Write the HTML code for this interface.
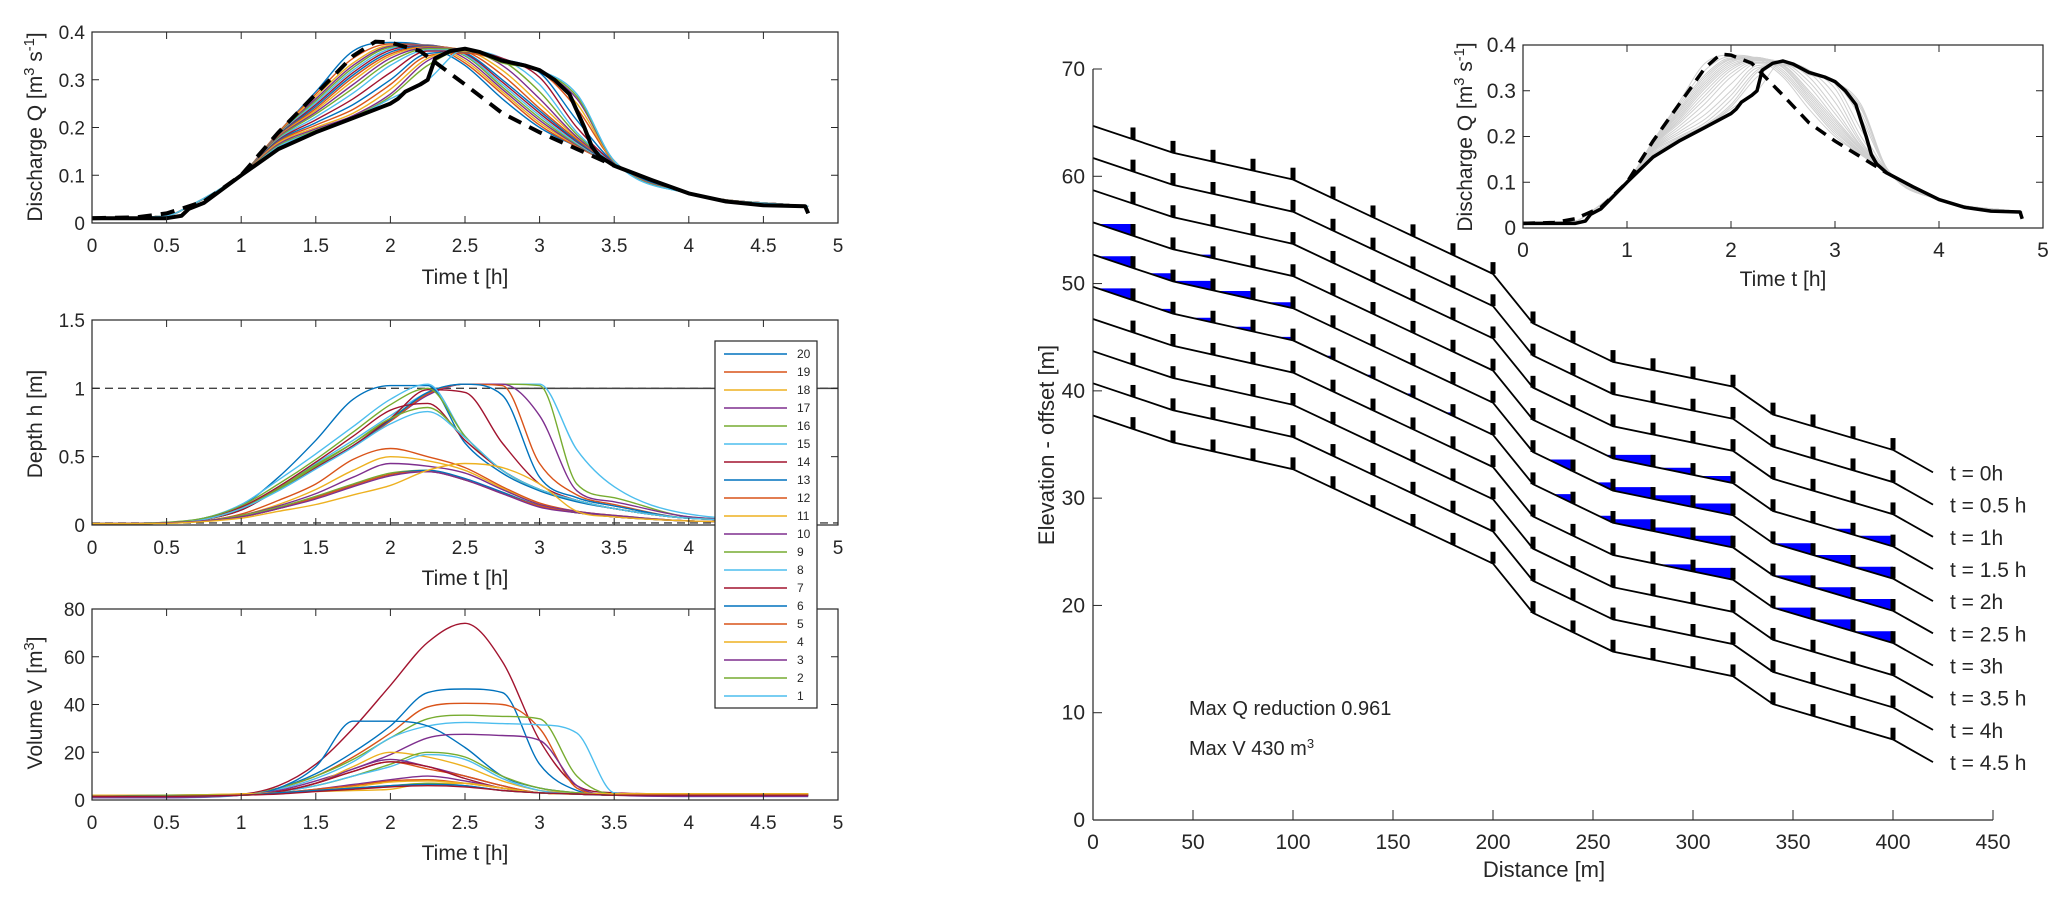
<!DOCTYPE html>
<html><head><meta charset="utf-8"><style>
html,body{margin:0;padding:0;background:#fff;}
svg{display:block;font-family:"Liberation Sans",Arial,sans-serif;}
</style></head><body>
<svg id="fig" width="2067" height="899" viewBox="0 0 2067 899" xmlns="http://www.w3.org/2000/svg">
<rect width="2067" height="899" fill="#fff"/>
<g id="root"></g>
</svg>
<script>
// ---------- data ----------
const palette=["#0072BD","#D95319","#EDB120","#7E2F8E","#77AC30","#4DBEEE","#A2142F"];
const timeTicks=[0,0.5,1,1.5,2,2.5,3,3.5,4,4.5,5];
const qTicks=[0,0.1,0.2,0.3,0.4];
const hTicks=[0,0.5,1,1.5];
const vTicks=[0,20,40,60,80];
const distTicks=[0,50,100,150,200,250,300,350,400,450];
const elevTicks=[0,10,20,30,40,50,60,70];
const insetTimeTicks=[0,1,2,3,4,5];

const inflowT=[0,0.3,0.5,0.6,0.75,1,1.25,1.5,1.75,1.9,2.0,2.2,2.5,2.75,3.0,3.25,3.5];
const inflowQ=[0.01,0.012,0.02,0.03,0.045,0.1,0.19,0.27,0.35,0.38,0.378,0.36,0.29,0.23,0.19,0.155,0.12];
const outflowT=[0,0.5,0.6,0.65,0.75,1,1.25,1.5,1.75,2.0,2.05,2.1,2.2,2.25,2.3,2.4,2.5,2.6,2.75,2.9,3.0,3.1,3.2,3.3,3.35,3.4,3.5,3.75,4,4.25,4.5,4.78,4.8];
const outflowQ=[0.01,0.01,0.015,0.03,0.042,0.1,0.155,0.19,0.22,0.25,0.26,0.275,0.29,0.3,0.345,0.36,0.365,0.358,0.34,0.33,0.32,0.3,0.27,0.2,0.16,0.14,0.12,0.09,0.062,0.045,0.037,0.035,0.02];

const qTime=[0,0.5,0.65,1,1.25,1.5,1.75,2,2.25,2.5,2.75,3,3.25,3.5,4,4.8];
const qSeries=[
[.01,.015,.035,.1,.19,.275,.36,.378,.37,.33,.26,.2,.16,.122,.062,.035],
[.01,.015,.035,.1,.19,.27,.345,.375,.372,.335,.27,.205,.16,.122,.062,.035],
[.01,.015,.035,.1,.188,.265,.335,.372,.373,.34,.275,.21,.162,.122,.062,.035],
[.01,.015,.035,.1,.187,.26,.33,.37,.373,.345,.28,.215,.163,.122,.062,.035],
[.01,.015,.035,.1,.186,.256,.325,.368,.372,.35,.285,.22,.165,.122,.062,.035],
[.01,.015,.035,.1,.185,.252,.32,.365,.372,.352,.29,.225,.167,.122,.062,.035],
[.01,.015,.035,.1,.184,.248,.315,.362,.371,.355,.295,.23,.17,.122,.062,.035],
[.01,.015,.035,.1,.183,.244,.31,.358,.37,.357,.3,.235,.172,.122,.062,.035],
[.01,.015,.035,.1,.182,.24,.305,.354,.369,.36,.31,.24,.175,.122,.062,.035],
[.01,.015,.035,.1,.181,.236,.298,.35,.368,.362,.32,.25,.178,.123,.062,.035],
[.01,.015,.035,.1,.18,.232,.29,.345,.367,.363,.33,.26,.18,.123,.062,.035],
[.01,.015,.035,.1,.178,.228,.282,.338,.365,.363,.34,.275,.185,.124,.062,.035],
[.01,.015,.035,.1,.176,.222,.272,.33,.362,.362,.345,.29,.19,.125,.062,.035],
[.01,.015,.035,.1,.174,.216,.26,.315,.36,.36,.345,.305,.2,.126,.062,.035],
[.01,.015,.035,.1,.172,.21,.248,.3,.355,.358,.343,.315,.215,.127,.062,.035],
[.01,.015,.035,.1,.17,.205,.238,.29,.35,.356,.34,.318,.24,.128,.062,.035],
[.01,.015,.035,.1,.168,.2,.23,.28,.345,.36,.338,.318,.25,.129,.062,.035],
[.01,.015,.035,.1,.165,.197,.225,.27,.34,.362,.336,.318,.26,.13,.062,.035],
[.01,.015,.035,.1,.162,.194,.222,.265,.33,.363,.335,.319,.265,.13,.062,.035],
[.01,.015,.035,.1,.16,.192,.22,.26,.3,.364,.34,.32,.27,.13,.062,.035]
];

const hTime=[0,0.5,0.75,1,1.25,1.5,1.75,2,2.25,2.5,2.75,3,3.25,3.5,4,4.8];
const hSeries=[
[.01,.015,.04,.12,.28,.45,.62,.8,.97,1.03,1.03,1.03,.55,.28,.08,.03],
[.01,.015,.04,.12,.27,.44,.6,.78,.96,1.03,1.03,1.02,.3,.2,.06,.03],
[.01,.015,.04,.11,.26,.42,.58,.76,.95,1.03,1.03,.8,.25,.17,.06,.03],
[.01,.015,.04,.11,.26,.42,.58,.76,.96,1.03,1.02,.45,.22,.15,.05,.03],
[.01,.015,.04,.11,.26,.42,.58,.77,.97,1.03,.95,.35,.2,.14,.05,.03],
[.01,.015,.04,.11,.26,.42,.58,.78,.99,.97,.6,.3,.18,.12,.05,.03],
[.01,.015,.05,.14,.35,.62,.92,1.02,1.02,.6,.38,.25,.17,.12,.05,.03],
[.01,.02,.05,.15,.33,.52,.72,.92,1.03,.65,.4,.26,.18,.12,.05,.03],
[.01,.02,.05,.14,.3,.48,.68,.88,1.0,.65,.4,.26,.18,.12,.05,.03],
[.01,.015,.04,.13,.28,.46,.65,.84,.89,.62,.4,.26,.18,.12,.05,.03],
[.01,.015,.04,.12,.26,.43,.6,.78,.86,.64,.4,.26,.18,.12,.05,.03],
[.01,.015,.04,.12,.25,.41,.57,.74,.83,.64,.4,.26,.18,.12,.05,.03],
[.01,.015,.03,.08,.18,.3,.48,.56,.5,.42,.28,.16,.1,.07,.03,.02],
[.01,.015,.03,.07,.15,.26,.4,.5,.47,.4,.27,.15,.1,.07,.03,.02],
[.01,.015,.03,.07,.14,.23,.35,.45,.43,.38,.26,.15,.1,.07,.03,.02],
[.01,.015,.03,.07,.13,.21,.3,.38,.4,.33,.24,.14,.09,.06,.03,.02],
[.01,.015,.03,.06,.12,.2,.29,.37,.4,.34,.24,.14,.09,.06,.03,.02],
[.01,.015,.03,.06,.12,.2,.29,.37,.39,.33,.23,.14,.09,.06,.03,.02],
[.01,.015,.03,.06,.12,.19,.28,.36,.39,.33,.23,.13,.09,.06,.03,.02],
[.01,.012,.025,.05,.1,.15,.22,.29,.4,.45,.42,.3,.1,.06,.03,.02]
];
const hColors=[5,4,3,1,0,6,0,5,4,6,4,5,1,2,3,4,0,1,3,2];

const vTime=[0,0.5,1,1.25,1.5,1.75,2,2.25,2.5,2.75,3,3.25,3.5,4,4.8];
const vSeries=[
[2,2,2.5,6,15,30,48,66,74,58,25,6,3,2.5,2.5],
[1.5,1.5,2,5,11,20,31,45,46.5,45,15,4,2,2,2],
[1.5,1.5,2,5,10,18,28,39,40.5,40,30,5,2,2,2],
[1.5,2,2,5,10,17,26,34,35.5,35,34,10,2.5,2.5,2.5],
[1,1,2,4.5,9,16,26,31,32.5,32,31.5,28,3,1.5,1.5],
[1.5,1.5,2,5,14,33,33,31,22,10,5,3,2,2,2],
[1,1,2,4,8,13,19,26,27.5,27,25,6,2,1.5,1.5],
[2,2,2,3.5,7,14,20,18,14,8,4,3,2.5,2.5,2.5],
[1.5,2,2,3.5,6,10,15,20,18,10,5,3,2,2,2],
[1,1,2,3.5,6,10,14,19,17,9,4,2.5,2,2,2],
[1,1,2,3.5,7,13,17,14,10,6,3,2.5,2,2,2],
[1.5,1.5,2,3.5,7,12,16,13,10,6,3,2.5,2,2,2],
[1.5,1.5,2,3.5,7,12,16,14,9,5,3,2.5,2,2,2],
[1,1,2,3,4.5,6.5,8.5,10,8,5,3,2.5,2,2,2],
[1.5,1.5,2,3,4.5,6,8,8.5,7,5,3,2.5,2,2,2],
[2,2,2.5,3,4,5.5,7.5,8,7,5,3,2.5,2.5,2.5,2.5],
[2,2,2.5,3,3.5,4,4.5,7,7,5,3,2.5,2.5,2.5,2.5],
[1.5,2,2,3,4,5,6,7,6,4,3,2.5,2,2,2],
[1.5,1.5,2,3,4,5,6,6.5,6,4,3,2.5,2,2,2],
[1.5,1.5,2,2.5,3.5,4.5,5.5,6,5.5,4,3,2.5,2,2,2]
];
const vColors=[6,0,1,4,5,0,3,2,4,5,3,1,6,3,1,2,2,4,0,6];

const legendLabels=["20","19","18","17","16","15","14","13","12","11","10","9","8","7","6","5","4","3","2","1"];

const profileX=[0,40,100,200,220,260,320,340,400,420];
const profileZ=[64.7,62.2,59.7,50.9,46.3,42.7,40.4,37.8,34.5,32.4];
const profileOffset=3;
const timeLabels=["t = 0h","t = 0.5 h","t = 1h","t = 1.5 h","t = 2h","t = 2.5 h","t = 3h","t = 3.5 h","t = 4h","t = 4.5 h"];
const weirX=[20,40,60,80,100,120,140,160,180,200,220,240,260,280,300,320,340,360,380,400];
const weirHeight=1.1;
const pondProfile=[3,3,3,3,3,3,3, 4,4,4,4,4,4,4,4,4,4,4,4,4, 5,5,5,5,5,5,5,5,5,5,5,5,5,5,5,5,5, 6,6,6,6,6];
const pondWeir=[20,60,280,300,320,380,400, 20,40,60,80,100,240,260,280,300,320,360,380,400, 20,40,60,80,100,120,140,160,180,240,260,280,300,320,360,380,400, 300,320,360,380,400];
const pondFrac=[1,.3,1,.6,.6,.5,.9, 1,.7,.8,.7,.5,1,.7,1,1,1,1,1,1, 1,.4,.4,.4,.3,.3,.3,.3,.3,.8,.6,1,1,1,1,1,1, .6,1,1,1,1];

// ---------- helpers ----------
const NS="http://www.w3.org/2000/svg";
const root=document.getElementById('root');
function el(tag,attrs,parent){const e=document.createElementNS(NS,tag);for(const k in attrs)e.setAttribute(k,attrs[k]);(parent||root).appendChild(e);return e;}
function lin(d0,d1,p0,p1){return v=>p0+(v-d0)*(p1-p0)/(d1-d0);}
function linePath(xs,ys,X,Y){return xs.map((x,i)=>(i?'L':'M')+X(x).toFixed(1)+','+Y(ys[i]).toFixed(1)).join('');}
// monotone cubic (Fritsch-Carlson) in pixel space
function smoothPath(xs,ys,X,Y){
  const px=xs.map(X),py=ys.map(Y),n=px.length;
  const d=[],m=[];
  for(let i=0;i<n-1;i++)d.push((py[i+1]-py[i])/(px[i+1]-px[i]));
  m[0]=d[0];m[n-1]=d[n-2];
  for(let i=1;i<n-1;i++){m[i]=(d[i-1]*d[i]<=0)?0:(d[i-1]+d[i])/2;}
  for(let i=0;i<n-1;i++){
    if(d[i]===0){m[i]=0;m[i+1]=0;continue;}
    const a=m[i]/d[i],b=m[i+1]/d[i],s=a*a+b*b;
    if(s>9){const t=3/Math.sqrt(s);m[i]=t*a*d[i];m[i+1]=t*b*d[i];}
  }
  let p='M'+px[0].toFixed(1)+','+py[0].toFixed(1);
  for(let i=0;i<n-1;i++){
    const h=(px[i+1]-px[i])/3;
    p+='C'+(px[i]+h).toFixed(1)+','+(py[i]+m[i]*h).toFixed(1)+' '+(px[i+1]-h).toFixed(1)+','+(py[i+1]-m[i+1]*h).toFixed(1)+' '+px[i+1].toFixed(1)+','+py[i+1].toFixed(1);
  }
  return p;
}
function txt(x,y,s,size,anchor,parent){const t=el('text',{x:x,y:y,'font-size':size,'text-anchor':anchor||'middle',fill:'#262626'},parent);t.textContent=s;return t;}

function boxAxes(g,X,Y,x0,x1,y0,y1,xt,yt,labelY,fs){
  el('rect',{x:X(x0),y:Y(y1),width:X(x1)-X(x0),height:Y(y0)-Y(y1),fill:'none',stroke:'#262626','stroke-width':1.2},g);
  xt.forEach(v=>{
    el('line',{x1:X(v),x2:X(v),y1:Y(y0),y2:Y(y0)-7,stroke:'#262626','stroke-width':1},g);
    el('line',{x1:X(v),x2:X(v),y1:Y(y1),y2:Y(y1)+7,stroke:'#262626','stroke-width':1},g);
    const t=txt(X(v),labelY,String(v),fs,'middle',g);
    
    
  });
  yt.forEach(v=>{
    el('line',{x1:X(x0),x2:X(x0)+7,y1:Y(v),y2:Y(v),stroke:'#262626','stroke-width':1},g);
    el('line',{x1:X(x1),x2:X(x1)-7,y1:Y(v),y2:Y(v),stroke:'#262626','stroke-width':1},g);
    const t=txt(X(x0)-7,Y(v)+7,String(v),fs,'end',g);
    
    
  });
}
function rotLabel(g,x,y,parts,size){
  const t=el('text',{x:0,y:0,'font-size':size,'text-anchor':'middle',fill:'#262626',transform:`translate(${x},${y}) rotate(-90)`},g);
  parts.forEach(p=>{const s=el('tspan',{},t);if(p[1]){s.setAttribute('baseline-shift','super');s.setAttribute('font-size',size*0.7);}s.textContent=p[0];});
  return t;
}
const TF=19, LF=21;

// ---------- top: discharge ----------
const gQ=el('g',{});


const XL=lin(0,5,92,838);
const YQ=lin(0,0.4,223,32);
qSeries.forEach((s,j)=>{const p=el('path',{d:smoothPath(qTime,s,XL,YQ),fill:'none',stroke:palette[j%7],'stroke-width':1.4},gQ);
  
  });
let pin=el('path',{d:linePath(inflowT,inflowQ,XL,YQ),fill:'none',stroke:'#000','stroke-width':4,'stroke-dasharray':'14,9'},gQ);


let pout=el('path',{d:linePath(outflowT,outflowQ,XL,YQ),fill:'none',stroke:'#000','stroke-width':4,'stroke-linejoin':'round'},gQ);


boxAxes(gQ,XL,YQ,0,5,0,0.4,timeTicks,qTicks,252,TF);
let t1=txt(465,284,'Time t [h]',LF,'middle',gQ);


let yl1=rotLabel(gQ,42,127,[['Discharge Q [m'],['3',1],[' s'],['-1',1],[']']],LF);



// ---------- middle: depth ----------
const gH=el('g',{});


const YH=lin(0,1.5,525,320);
el('line',{x1:XL(0),x2:XL(5),y1:YH(1),y2:YH(1),stroke:'#444','stroke-width':1.3,'stroke-dasharray':'8,5'},gH);
el('line',{x1:XL(2.7),x2:XL(5),y1:YH(1),y2:YH(1),stroke:'#444','stroke-width':1.5},gH);
el('line',{x1:XL(0),x2:XL(5),y1:YH(0.015),y2:YH(0.015),stroke:'#444','stroke-width':1.3,'stroke-dasharray':'8,5'},gH);
hSeries.forEach((s,j)=>{const p=el('path',{d:smoothPath(hTime,s,XL,YH),fill:'none',stroke:palette[hColors[j]],'stroke-width':1.4},gH);
  
  });
boxAxes(gH,XL,YH,0,5,0,1.5,timeTicks,hTicks,554,TF);
let t2=txt(465,585,'Time t [h]',LF,'middle',gH);


let yl2=rotLabel(gH,42,424,[['Depth h [m]']],LF);



// ---------- bottom: volume ----------
const gV=el('g',{});


const YV=lin(0,80,800,609);
vSeries.forEach((s,j)=>{const p=el('path',{d:smoothPath(vTime,s,XL,YV),fill:'none',stroke:palette[vColors[j]],'stroke-width':1.4},gV);
  
  });
boxAxes(gV,XL,YV,0,5,0,80,timeTicks,vTicks,829,TF);
let t3=txt(465,860,'Time t [h]',LF,'middle',gV);


let yl3=rotLabel(gV,42,703,[['Volume V [m'],['3',1],[']']],LF);



// ---------- legend ----------
const gL=el('g',{});


el('rect',{x:715,y:341,width:102,height:367,fill:'#fff',stroke:'#262626','stroke-width':1.2},gL);
legendLabels.forEach((lab,i)=>{
  const y=354+18*i;
  const ln=el('line',{x1:724,x2:787,y1:y,y2:y,stroke:palette[i%7],'stroke-width':1.5},gL);
  
  
  const t=txt(797,y+4,lab,12,'start',gL);
  
  
});

// ---------- right: profiles ----------
const gP=el('g',{});


const XD=lin(0,450,1093,1993);
const YE=lin(0,70,820,69);
function zAt(x){for(let i=0;i<profileX.length-1;i++){if(x<=profileX[i+1]){const f=(x-profileX[i])/(profileX[i+1]-profileX[i]);return profileZ[i]+f*(profileZ[i+1]-profileZ[i]);}}return profileZ[profileZ.length-1];}
pondProfile.forEach((k,i)=>{
  const xw=pondWeir[i],off=k*profileOffset;
  const L=zAt(xw)+pondFrac[i]*weirHeight;
  let xs=xw; while(xs>0 && zAt(xs)<L) xs-=0.25;
  const pts=[[xs,L],[xw,L],[xw,zAt(xw)]];
  for(let x=xw-0.25;x>xs;x-=0.5)pts.push([x,zAt(x)]);
  const poly=el('polygon',{points:pts.map(p=>XD(p[0]).toFixed(1)+','+YE(p[1]-off).toFixed(1)).join(' '),fill:'#0000FF'},gP);
  
  
});
for(let k=0;k<timeLabels.length;k++){
  const off=k*profileOffset;
  const pl=el('path',{d:linePath(profileX,profileZ.map(z=>z-off),XD,YE),fill:'none',stroke:'#000','stroke-width':1.8},gP);
  
  
  weirX.forEach(x=>{
    const r=el('rect',{x:XD(x)-2.5,y:YE(zAt(x)-off+weirHeight),width:5,height:YE(0)-YE(weirHeight),fill:'#000'},gP);
    
    
  });
  const lt=txt(1950,YE(profileZ[profileZ.length-1]-off)+8,timeLabels[k],21,'start',gP);
  
  
}
el('line',{x1:XD(0),x2:XD(0),y1:YE(70),y2:YE(0),stroke:'#262626','stroke-width':1.2},gP);
el('line',{x1:XD(0),x2:XD(450),y1:YE(0),y2:YE(0),stroke:'#262626','stroke-width':1.2},gP);
distTicks.forEach(v=>{el('line',{x1:XD(v),x2:XD(v),y1:YE(0),y2:YE(0)-10,stroke:'#262626','stroke-width':1},gP);
  const t=txt(XD(v),YE(0)+29,String(v),21,'middle',gP);
  
  });
elevTicks.forEach(v=>{el('line',{x1:XD(0),x2:XD(0)+9,y1:YE(v),y2:YE(v),stroke:'#262626','stroke-width':1},gP);
  const t=txt(XD(0)-8,YE(v)+7,String(v),21,'end',gP);
  
  });
let t4=txt(1544,877,'Distance [m]',22,'middle',gP);


let yl4=rotLabel(gP,1054,445,[['Elevation - offset [m]']],22);


let a1=txt(1189,715,'Max Q reduction 0.961',20,'start',gP);


let a2=el('text',{x:1189,y:755,'font-size':20,fill:'#262626'},gP);


a2.textContent='Max V 430 m';
let sp=el('tspan',{'baseline-shift':'super','font-size':13},a2); sp.textContent='3';

// ---------- inset ----------
const gI=el('g',{});


const XI=lin(0,5,1523,2043);
const YI=lin(0,0.4,228,45);
el('rect',{x:XI(0),y:YI(0.4),width:XI(5)-XI(0),height:YI(0)-YI(0.4),fill:'#fff'},gI);
qSeries.forEach(s=>{const p=el('path',{d:smoothPath(qTime,s,XI,YI),fill:'none',stroke:'#cfcfcf','stroke-width':1},gI);
  
  });
let pin2=el('path',{d:linePath(inflowT,inflowQ,XI,YI),fill:'none',stroke:'#000','stroke-width':3.5,'stroke-dasharray':'12,8'},gI);


let pout2=el('path',{d:linePath(outflowT,outflowQ,XI,YI),fill:'none',stroke:'#000','stroke-width':3.5,'stroke-linejoin':'round'},gI);


boxAxes(gI,XI,YI,0,5,0,0.4,insetTimeTicks,qTicks,257,21);
let t5=txt(1783,286,'Time t [h]',21,'middle',gI);


let yl5=rotLabel(gI,1472,137,[['Discharge Q [m'],['3',1],[' s'],['-1',1],[']']],21);


</script>
</body></html>
